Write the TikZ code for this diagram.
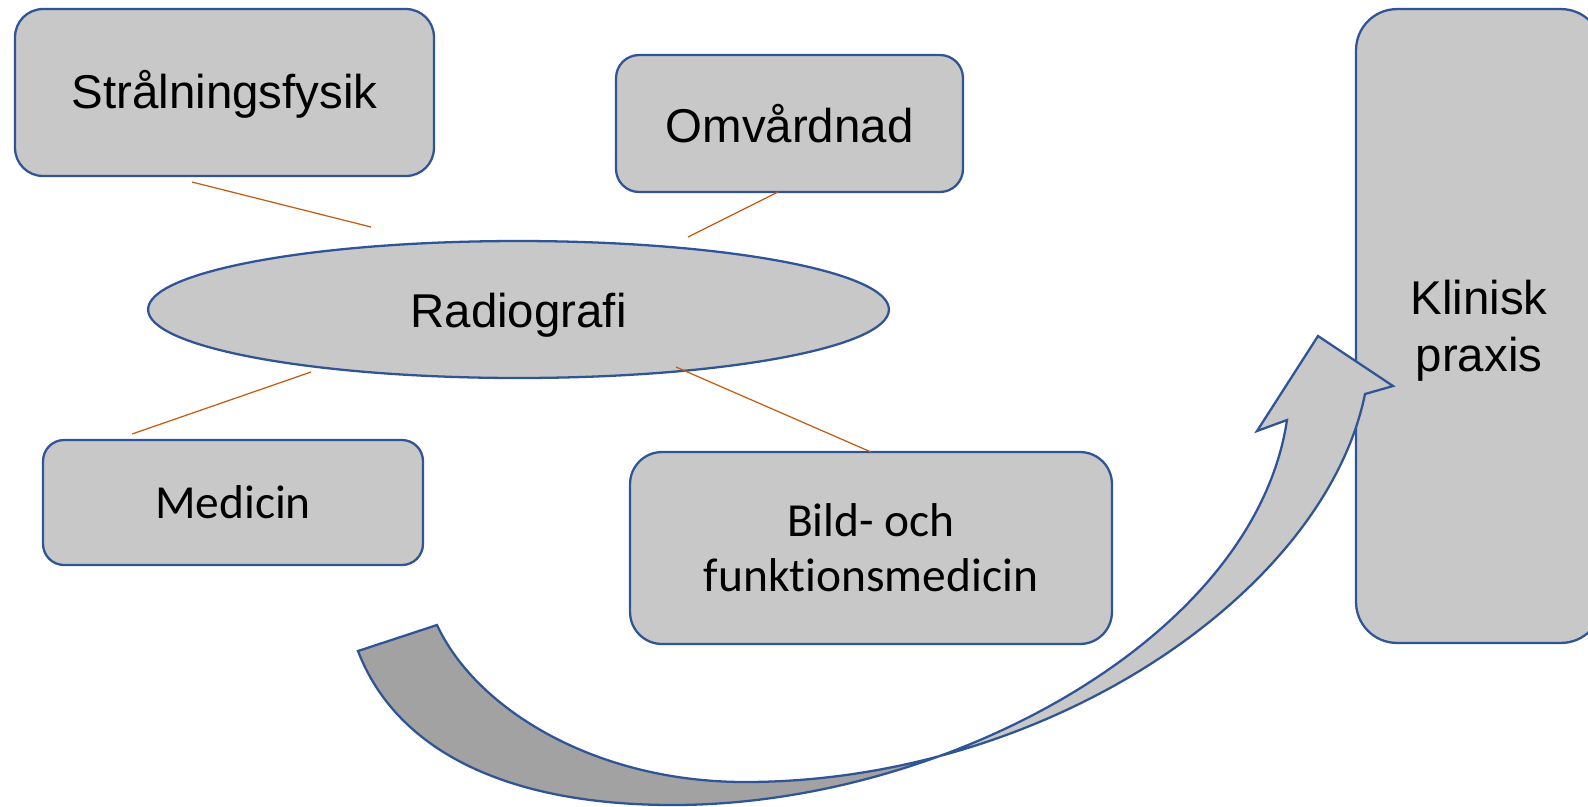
\documentclass[tikz,border=0pt]{standalone}
\usepackage{fontspec}
\setmainfont{Liberation Sans}
\newfontfamily\calibrifont[Ligatures={NoCommon,NoDiscretionary,NoRare}]{Carlito}
\usetikzlibrary{shapes.geometric}
\definecolor{boxfill}{HTML}{C8C8C8}
\definecolor{boxline}{HTML}{2F5597}
\definecolor{linkline}{HTML}{C55A11}
\definecolor{darkfill}{HTML}{A2A2A2}
\newcommand{\curvedarrowpath}{(358,651) .. controls (395.5,748.5) and (503,805) .. (673,805)
  .. controls (943,805) and (1254,640) .. (1287,420)
  -- (1257,431) -- (1318,336) -- (1393,386) -- (1365,394)
  .. controls (1324,594) and (1045,782) .. (745,782)
  .. controls (595,782) and (476,709) .. (437,625) -- cycle}
\begin{document}
\begin{tikzpicture}[x=0.02cm,y=-0.02cm,
  box/.style={draw=boxline, fill=boxfill, line width=1.3pt, rounded corners=#1,
    inner sep=0pt, align=center, font=\fontsize{27}{32.5}\selectfont},
  box/.default=0.5cm,
  calfont/.style={font=\calibrifont\fontsize{27}{31.5}\selectfont},
  oval/.style={ellipse, draw=boxline, fill=boxfill, line width=1.3pt, inner sep=0pt,
    font=\fontsize{27}{32.5}\selectfont},
  link/.style={draw=linkline, line width=0.7pt},
  arrowline/.style={draw=boxline, line width=1.3pt, line join=miter}]
\clip (0,0) rectangle (1588,806);

\node[box=0.56cm, minimum width=8.38cm, minimum height=3.34cm, text height=24pt, text depth=6pt] (strl) at (224.5,92.5) {Strålningsfysik};
\node[box=0.46cm, minimum width=6.94cm, minimum height=2.74cm] (omv) at (789.5,123.5) {Omvårdnad};
\node[oval, minimum width=14.82cm, minimum height=2.74cm, text height=27pt, text depth=6pt] (rad) at (518.5,309.5) {Radiografi};
\node[box=0.42cm, calfont, minimum width=7.6cm, minimum height=2.5cm] (med) at (233,502.5) {Medicin};
\node[box=0.64cm, calfont, minimum width=9.64cm, minimum height=3.84cm] (bild) at (871,548) {Bild- och\\funktionsmedicin};
\node[box=0.82cm, minimum width=4.92cm, minimum height=12.68cm,
  label={[name=klinlabel, align=center, font=\fontsize{27}{32.5}\selectfont, yshift=-2.8pt]center:Klinisk\\praxis}] (klin) at (1479,326) {};

\coordinate (l1a) at (192,182); \coordinate (l1b) at (371,227);
\coordinate (l2a) at (778,192); \coordinate (l2b) at (688,237);
\coordinate (l3a) at (311,372); \coordinate (l3b) at (132,434);
\coordinate (l4a) at (676,367); \coordinate (l4b) at (871,452);
\draw[link] (l1a) -- (l1b);
\draw[link] (l2a) -- (l2b);
\draw[link] (l3a) -- (l3b);
\draw[link] (l4a) -- (l4b);

% curved block arrow: darker back part left of the twist, lighter front part right of it
\begin{scope}
  \clip (0,0) rectangle (945,806);
  \fill[darkfill] \curvedarrowpath;
\end{scope}
\begin{scope}
  \clip (945,0) rectangle (1588,806);
  \fill[boxfill] \curvedarrowpath;
\end{scope}
\draw[arrowline] \curvedarrowpath;
\end{tikzpicture}
\end{document}
